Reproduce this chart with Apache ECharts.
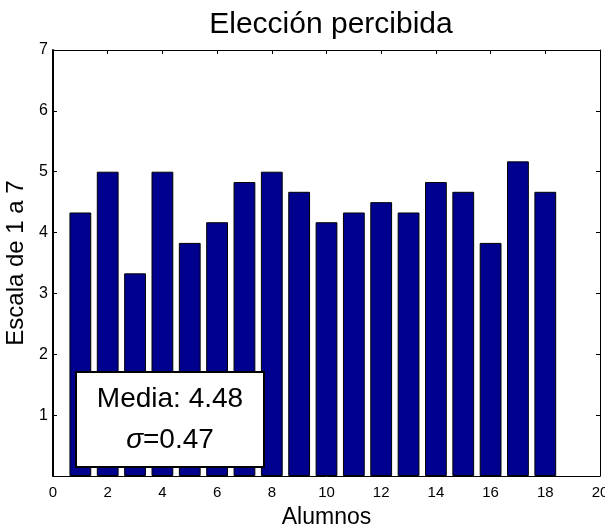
<!DOCTYPE html>
<html>
<head>
<meta charset="utf-8">
<script src="https://cdn.jsdelivr.net/npm/echarts@6/dist/echarts.min.js"></script>
<style>
  html, body { margin: 0; padding: 0; background: #fff; }
  #chart { width: 605px; height: 529px; }
</style>
</head>
<body>
<div id="chart"></div>
<script>
// Students (1..18) and their perceived-choice score on a 1-7 scale
const alumnos = [1, 2, 3, 4, 5, 6, 7, 8, 9, 10, 11, 12, 13, 14, 15, 16, 17, 18];
const puntajes = [4.33, 5.00, 3.33, 5.00, 3.83, 4.17, 4.83, 5.00, 4.67, 4.17, 4.33, 4.50, 4.33, 4.83, 4.67, 3.83, 5.17, 4.67];
const media = 4.48;
const sigma = 0.47;

const FONT = 'Liberation Sans, Arial, sans-serif';
const chart = echarts.init(document.getElementById('chart'));

const tickStyle = { show: true, inside: true, length: 4, lineStyle: { color: '#000', width: 1 } };

chart.setOption({
  animation: false,
  backgroundColor: '#fff',
  title: {
    text: 'Elección percibida',
    left: 326, top: 5, textAlign: 'center',
    textStyle: { fontFamily: FONT, fontSize: 30, fontWeight: 'normal', color: '#000' }
  },
  grid: { left: 53, right: 5, top: 50, bottom: 53, containLabel: false, outerBoundsMode: 'none' },
  xAxis: [
    {
      type: 'value', min: 0, max: 20, interval: 2, position: 'bottom',
      name: 'Alumnos', nameLocation: 'middle', nameGap: 30,
      nameTextStyle: { fontFamily: FONT, fontSize: 23, color: '#000' },
      axisLine: { show: true, onZero: false, lineStyle: { color: '#000', width: 1 } },
      axisTick: tickStyle,
      axisLabel: { fontFamily: FONT, fontSize: 15, color: '#000', margin: 9 },
      splitLine: { show: false }
    },
    {
      type: 'value', min: 0, max: 20, interval: 2, position: 'top',
      axisLine: { show: true, onZero: false, lineStyle: { color: '#000', width: 1 } },
      axisTick: tickStyle, axisLabel: { show: false }, splitLine: { show: false }
    }
  ],
  yAxis: [
    {
      type: 'value', min: 0, max: 7, interval: 1, position: 'left',
      name: 'Escala de 1 a 7', nameLocation: 'middle', nameGap: 24,
      nameTextStyle: { fontFamily: FONT, fontSize: 24, color: '#000' },
      axisLine: { show: true, onZero: false, lineStyle: { color: '#000', width: 2 } },
      axisTick: tickStyle,
      axisLabel: {
        fontFamily: FONT, fontSize: 16, color: '#000', margin: 5,
        formatter: v => (v === 0 ? '' : String(v))
      },
      splitLine: { show: false }
    },
    {
      type: 'value', min: 0, max: 7, interval: 1, position: 'right',
      axisLine: { show: true, onZero: false, lineStyle: { color: '#000', width: 1 } },
      axisTick: tickStyle, axisLabel: { show: false }, splitLine: { show: false }
    }
  ],
  series: [{
    type: 'bar',
    xAxisIndex: 0, yAxisIndex: 0,
    data: alumnos.map((a, i) => [a, puntajes[i]]),
    barWidth: 21.8,
    itemStyle: { color: '#00008f', borderColor: '#000', borderWidth: 1 }
  }],
  graphic: [{
    type: 'group',
    left: 75, top: 371, z: 100,
    children: [
      {
        type: 'rect', z: 100,
        shape: { x: 0, y: 0, width: 188, height: 95 },
        style: { fill: '#fff', stroke: '#000', lineWidth: 2 }
      },
      {
        type: 'text', z: 101,
        style: {
          x: 94, y: 27, text: 'Media: ' + media.toFixed(2),
          font: '28px ' + FONT, fill: '#000', align: 'center', verticalAlign: 'middle'
        }
      },
      {
        type: 'text', z: 101,
        style: {
          x: 94, y: 68, text: '{i|σ}{n|=' + sigma.toFixed(2) + '}',
          align: 'center', verticalAlign: 'middle',
          rich: {
            i: { fontFamily: FONT, fontSize: 28, fontStyle: 'italic', fill: '#000' },
            n: { fontFamily: FONT, fontSize: 28, fill: '#000' }
          }
        }
      }
    ]
  }]
});
</script>
</body>
</html>
